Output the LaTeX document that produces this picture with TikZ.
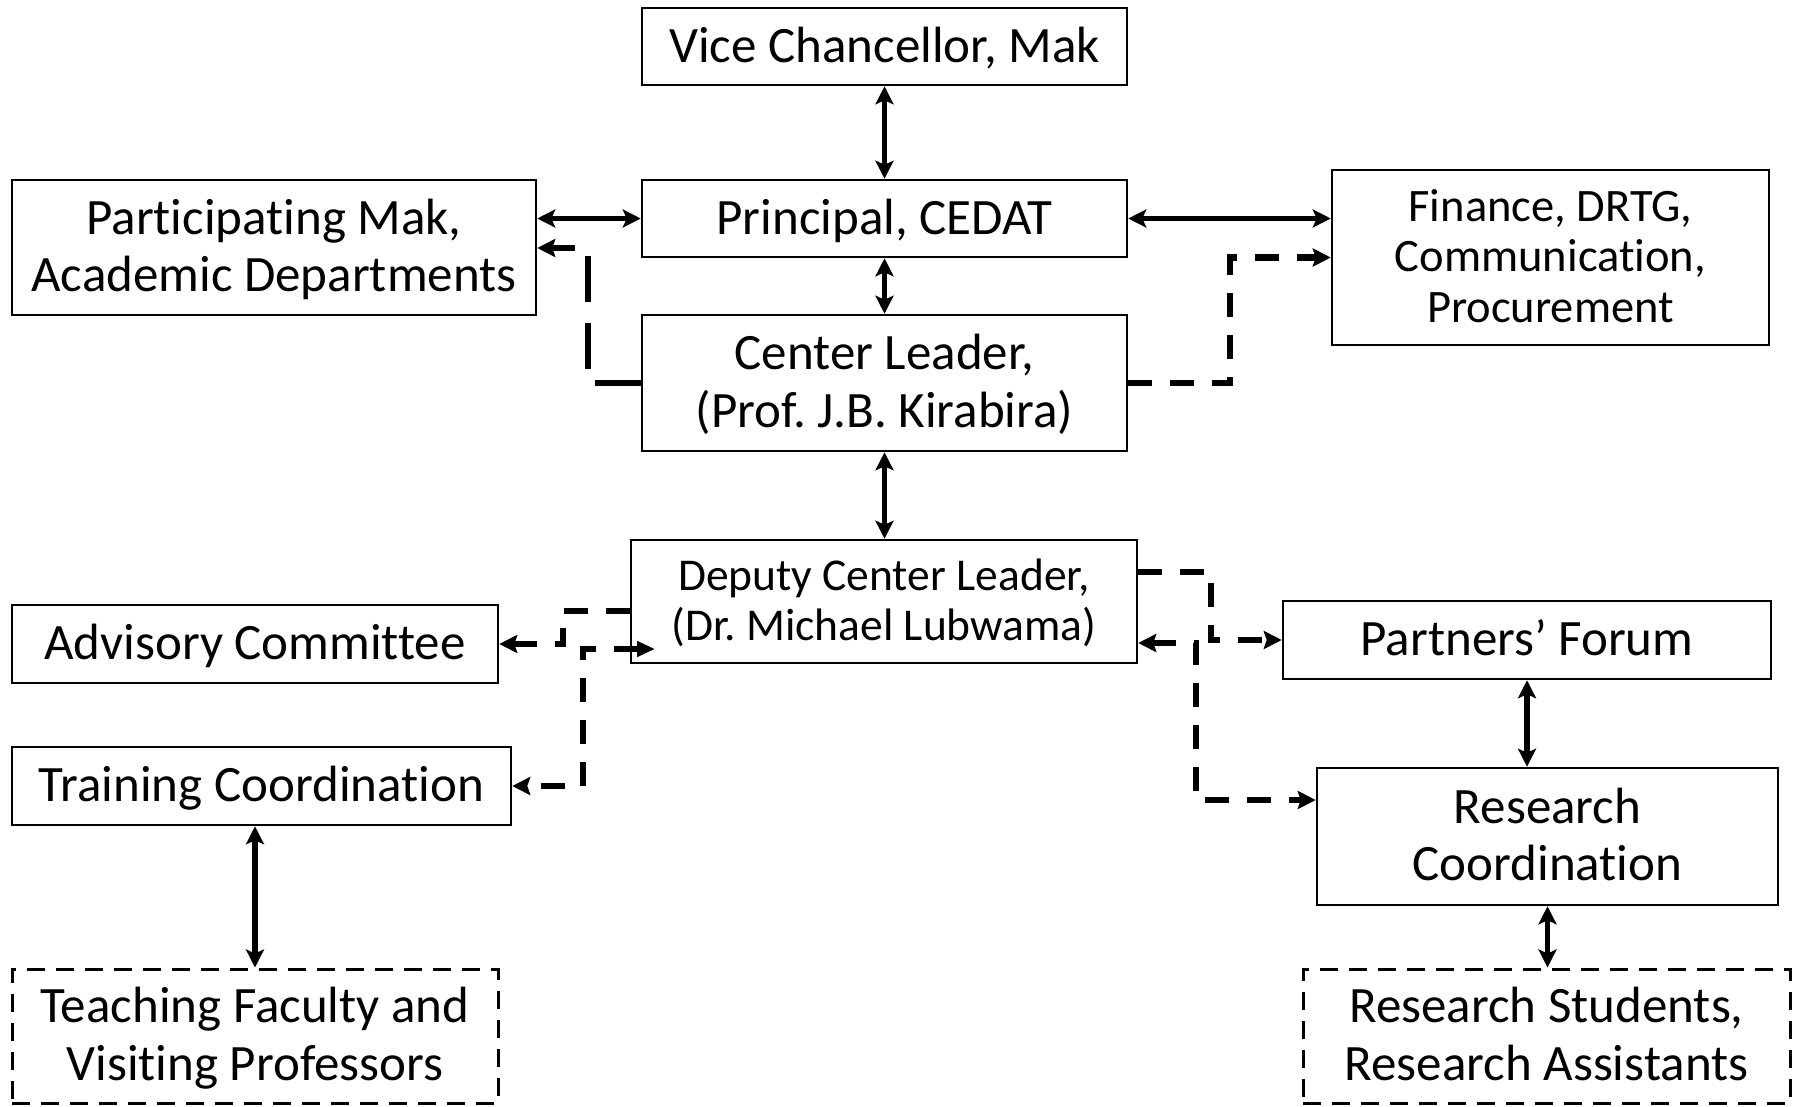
\documentclass[tikz,border=0pt]{standalone}
\usepackage{fontspec}
\setmainfont{Carlito}[Ligatures={NoCommon,NoRequired,NoContextual}]
\usetikzlibrary{arrows.meta,calc}
\newcommand{\boxtext}[1]{\raisebox{-4pt}[\height][\depth]{\begin{tabular}{@{}c@{}}#1\end{tabular}}}
\tikzset{
  box/.style={draw, line width=2.5pt, inner sep=0pt,
    font=\fontsize{51}{57.5}\selectfont\frenchspacing},
  smallbox/.style={box, font=\fontsize{45.5}{50.6}\selectfont\frenchspacing},
  dbox/.style={box, line width=3pt, dash pattern=on 18pt off 11pt},
  stip/.tip={Stealth[length=18pt,width=18pt,inset=4pt]},
  dtip/.tip={Stealth[length=18pt,width=18pt,inset=3pt]},
  ttip/.tip={Triangle[length=18pt,width=15pt]},
  biarrow/.style={line width=5.5pt, {stip}-{stip}},
  dashconn/.style={line width=6.5pt, dash pattern=on 24pt off 18pt},
  longdash/.style={dash pattern=on 46pt off 21pt}
}
\begin{document}
\begin{tikzpicture}[x=1pt,y=-1pt]
\useasboundingbox (0,0) rectangle (1799,1106);
% nodes
\node[box, minimum width=485pt, minimum height=77pt] (vc) at (884.5,46.5) {\boxtext{Vice Chancellor, Mak}};
\node[box, minimum width=485pt, minimum height=77pt] (prin) at (884.5,218.5) {\boxtext{Principal, CEDAT}};
\node[box, minimum width=524pt, minimum height=135pt] (part) at (274,247.5) {\boxtext{Participating Mak,\\Academic Departments}};
\node[smallbox, font=\fontsize{46.5}{50.6}\selectfont\frenchspacing, minimum width=437pt, minimum height=175pt] (fin) at (1550.5,257.5) {\boxtext{Finance, DRTG,\\Communication,\\Procurement}};
\node[box, minimum width=485pt, minimum height=136pt] (cl) at (884.5,383) {\boxtext{Center Leader,\\(Prof. J.B. Kirabira)}};
\node[smallbox, minimum width=506pt, minimum height=123pt] (dep) at (884,601.5) {\boxtext{Deputy Center Leader,\\(Dr. Michael Lubwama)}};
\node[box, minimum width=486pt, minimum height=78pt] (adv) at (255,644) {\boxtext{Advisory Committee}};
\node[box, minimum width=499pt, minimum height=78pt] (train) at (261.5,786) {\boxtext{Training Coordination}};
\node[dbox, minimum width=486pt, minimum height=134pt] (teach) at (255,1036) {\boxtext{Teaching Faculty and\\Visiting Professors}};
\node[box, minimum width=488pt, minimum height=78pt] (pf) at (1527,640) {\boxtext{Partners’ Forum}};
\node[box, minimum width=461pt, minimum height=137pt] (rc) at (1547.5,836.5) {\boxtext{Research\\Coordination}};
\node[dbox, minimum width=487pt, minimum height=134pt] (rs) at (1546.5,1036) {\boxtext{Research Students,\\Research Assistants}};
% solid connectors
\draw[biarrow] (vc.south) -- (prin.north);
\draw[biarrow] (prin.south) -- (cl.north);
\draw[biarrow] (cl.south) -- (cl.south |- dep.north);
\draw[biarrow] (part.east |- prin.west) -- (prin.west);
\draw[biarrow] (prin.east) -- (fin.west |- prin.east);
\draw[biarrow] (train.south -| teach.north) -- (teach.north);
\draw[biarrow] (pf.south) -- (pf.south |- rc.north);
\draw[biarrow] (rc.south) -- (rc.south |- rs.north);
% dashed connectors
\coordinate (a1) at (588,248);
\coordinate (a2) at (1230,257.5);
\coordinate (a3) at (563,611);
\coordinate (a4) at (583,649);
\coordinate (a5) at (655,649);
\coordinate (b1) at (1211,572);
\coordinate (b2) at (1196,643);
\coordinate (b3) at (1196,800);
\draw[dashconn, longdash, -{dtip}] (cl.west) -| (a1) -- (part.east |- a1);
\draw[dashconn, -{dtip}] (cl.east) -| (a2) -- (fin.west |- a2);
\draw[dashconn, -{dtip}] (dep.west |- a3) -- (a3) |- (adv.east);
\draw[dashconn, {ttip}-{dtip}] (a5) -- (a4) |- (train.east);
\draw[dashconn, -{dtip}] (dep.east |- b1) -- (b1) |- (pf.west);
\draw[dashconn, {dtip}-{dtip}] (dep.east |- b2) -- (b2) -- (b3) -- (rc.west |- b3);
\end{tikzpicture}
\end{document}
